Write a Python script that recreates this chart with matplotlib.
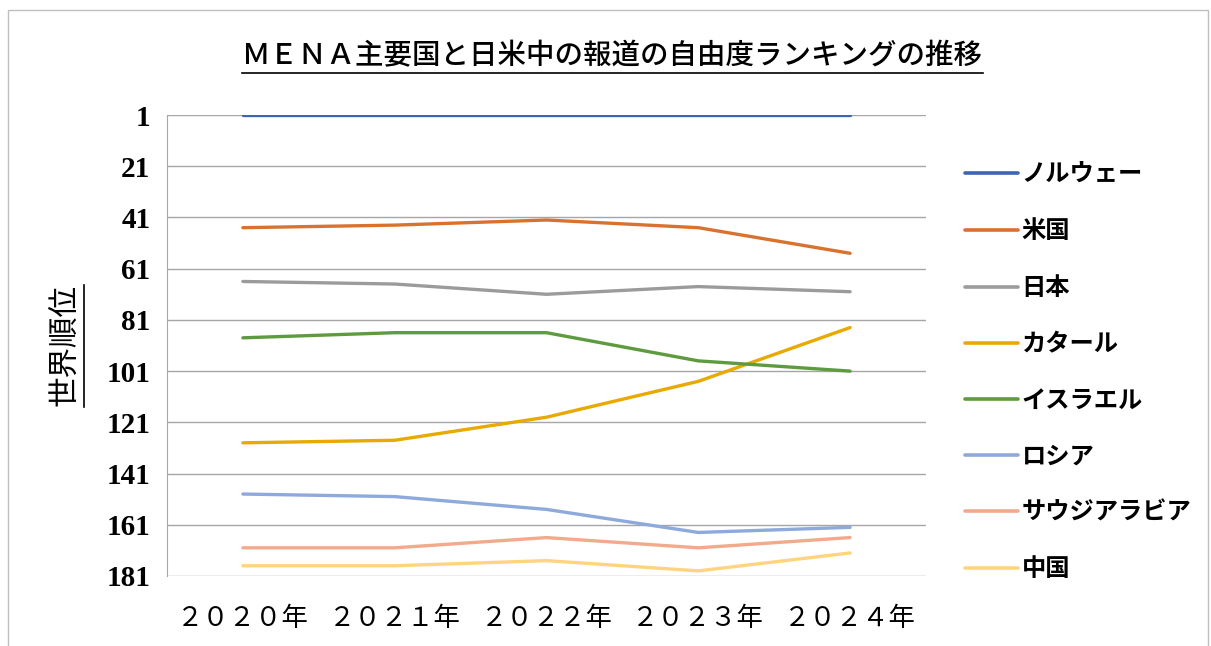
import matplotlib.pyplot as plt
from matplotlib.lines import Line2D
from matplotlib.patches import Rectangle

years = ['２０２０年', '２０２１年', '２０２２年', '２０２３年', '２０２４年']
countries = ['ノルウェー', '米国', '日本', 'カタール', 'イスラエル', 'ロシア', 'サウジアラビア', '中国']
norway = [1, 1, 1, 1, 1]
usa = [45, 44, 42, 45, 55]
japan = [66, 67, 71, 68, 70]
qatar = [129, 128, 119, 105, 84]
israel = [88, 86, 86, 97, 101]
russia = [149, 150, 155, 164, 162]
saudi = [170, 170, 166, 170, 166]
china = [177, 177, 175, 179, 172]
yticks = [1, 21, 41, 61, 81, 101, 121, 141, 161, 181]
colors = ['#3F65B2', '#DA722F', '#9B9B9B', '#E8A900', '#5E9B3E', '#8EA9DC', '#F2AA8C', '#FFD47E']

series = [norway, usa, japan, qatar, israel, russia, saudi, china]

jp = ['Liberation Serif', 'Noto Sans CJK JP']

fig = plt.figure(figsize=(12.11, 6.46), dpi=100)
ax = fig.add_axes([167 / 1211, 1 - 576 / 646, 759 / 1211, 461 / 646])

x = list(range(len(years)))
for vals, name, c in zip(series, countries, colors):
    ax.plot(x, vals, color=c, lw=2.4, label=name, solid_capstyle='round')

ax.set_xlim(-0.5, len(years) - 0.5)
ax.set_ylim(181, 1)
ax.set_yticks(yticks)
ax.set_yticklabels([str(t) for t in yticks], fontfamily='Liberation Serif', fontweight='bold', fontsize=21)
ax.set_xticks(x)
ax.set_xticklabels(years, fontfamily=jp, fontsize=19)
ax.tick_params(length=0, pad=12)
ax.tick_params(axis='x', pad=22)
ax.yaxis.grid(True, color='#A6A6A6', lw=1)
ax.set_axisbelow(True)
for s in ['top', 'right', 'bottom']:
    ax.spines[s].set_visible(False)
ax.spines['left'].set_color('#A6A6A6')

ax.set_ylabel('世界順位', fontfamily=jp, fontsize=22, labelpad=18)

leg = ax.legend(loc='upper left', bbox_to_anchor=(1.022, 0.94), frameon=False,
                prop={'family': jp, 'size': 17.5, 'weight': 'bold'},
                handlelength=2.2, handletextpad=0.15, labelspacing=1.4)
for h in leg.get_lines():
    h.set_linewidth(2.6)

title = fig.text(0.506, 1 - 57 / 646, 'ＭＥＮＡ主要国と日米中の報道の自由度ランキングの推移',
                 ha='center', va='center', fontfamily=jp, fontsize=20.5, fontweight='medium')

# figure border
fig.patches.append(Rectangle((8 / 1211, -0.01), 1200 / 1211, 1 - 10 / 646 + 0.01,
                             transform=fig.transFigure, fill=False, ec='#BFBFBF', lw=1))

# underline title and y label
fig.canvas.draw()
r = fig.canvas.get_renderer()
bb = title.get_window_extent(r).transformed(fig.transFigure.inverted())
fig.add_artist(Line2D([bb.x0, bb.x1], [bb.y0 - 0.004, bb.y0 - 0.004], color='black', lw=1.2))
bb = ax.yaxis.label.get_window_extent(r).transformed(fig.transFigure.inverted())
fig.add_artist(Line2D([bb.x1 + 0.002, bb.x1 + 0.002], [bb.y0, bb.y1], color='black', lw=1.2))

fig.savefig('out.png', dpi=100)
